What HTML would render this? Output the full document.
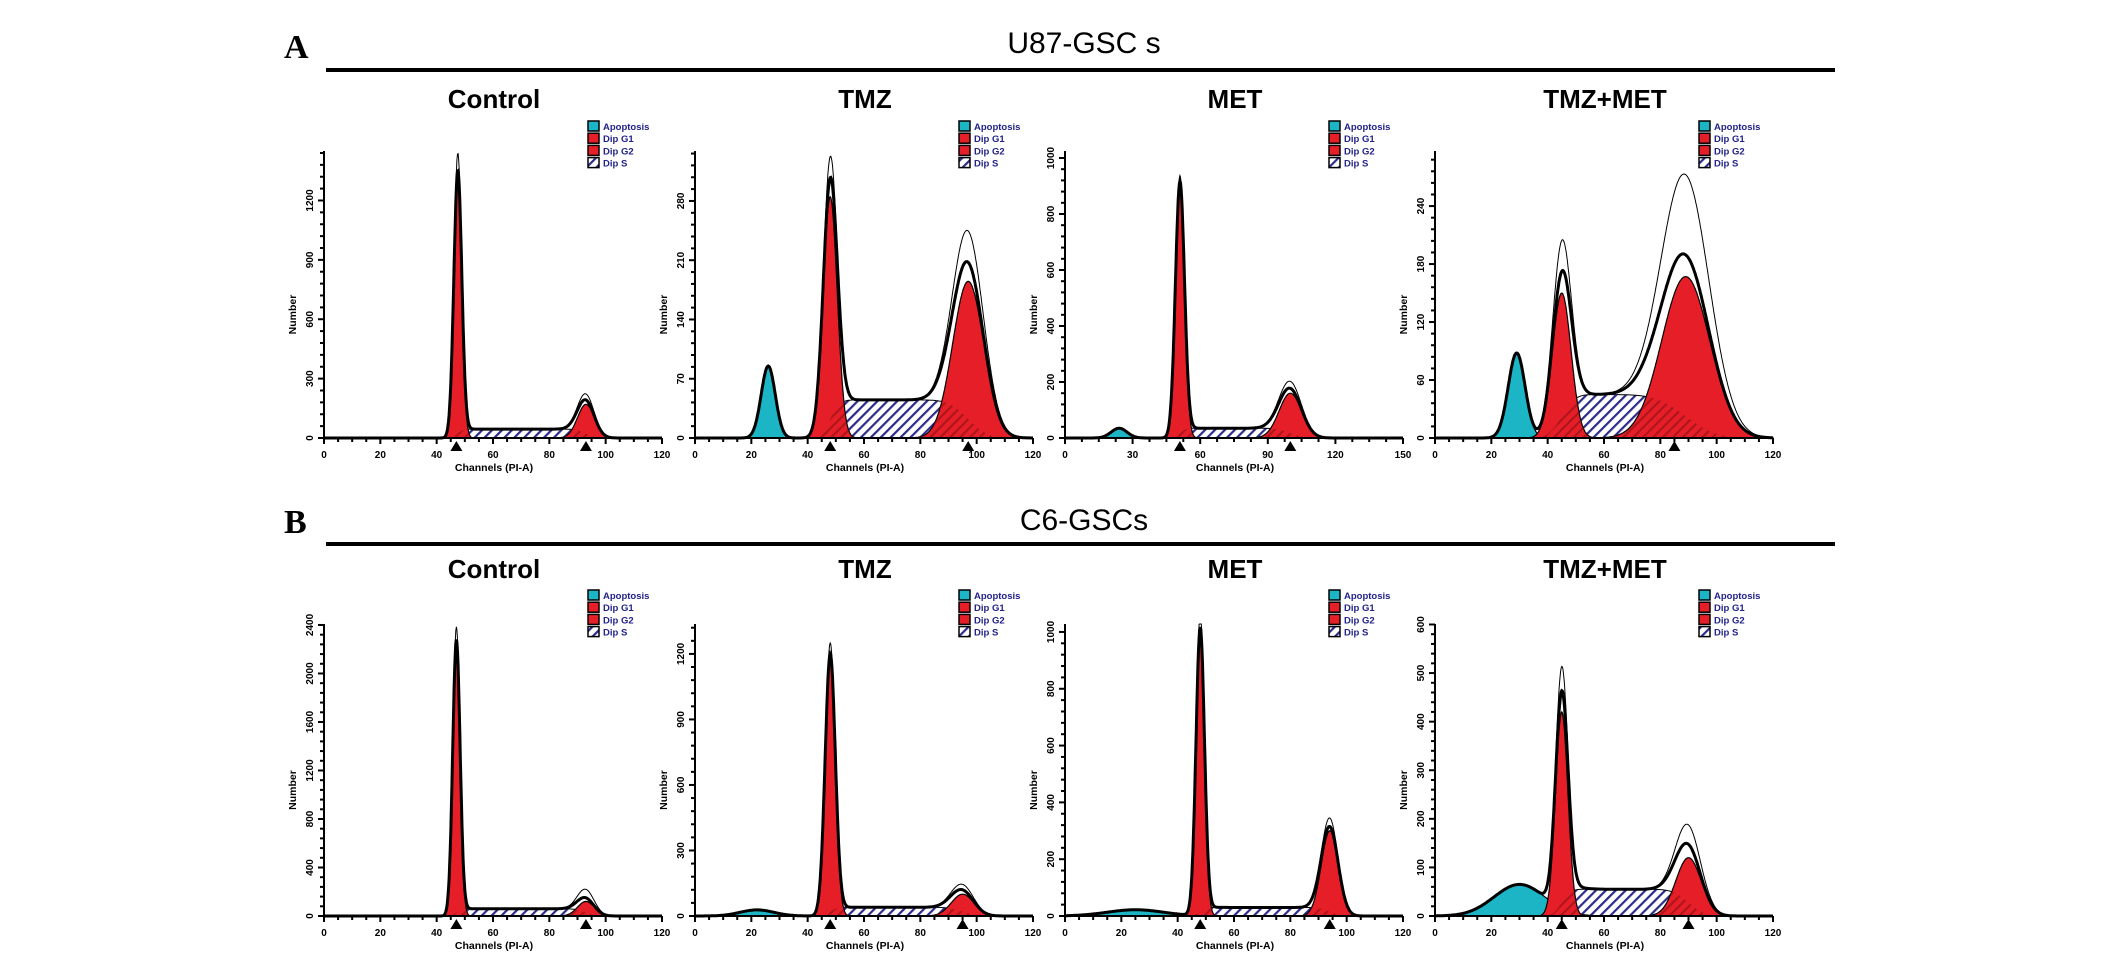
<!DOCTYPE html>
<html><head><meta charset="utf-8"><style>
body{margin:0;background:#fff;}
svg{display:block;font-family:"Liberation Sans",Arial,sans-serif;}
</style></head><body>
<svg id="fig" width="2126" height="961" viewBox="0 0 2126 961" xmlns="http://www.w3.org/2000/svg">
<defs>
<pattern id="hatchS" patternUnits="userSpaceOnUse" width="7" height="7" patternTransform="rotate(45)">
<rect width="7" height="7" fill="#fff"/><rect width="2.2" height="7" fill="#2b2b8c"/></pattern>
<pattern id="hatchR" patternUnits="userSpaceOnUse" width="7" height="7" patternTransform="rotate(45)">
<rect width="2.2" height="7" fill="#8a0f14" opacity="0.6"/></pattern>
</defs>
<text x="284" y="58" font-family="Liberation Serif,serif" font-weight="bold" font-size="34">A</text>
<line x1="326" y1="70" x2="1835" y2="70" stroke="#000" stroke-width="4"/>
<text x="1084" y="53" text-anchor="middle" font-size="30">U87-GSC s</text>
<text x="284" y="533" font-family="Liberation Serif,serif" font-weight="bold" font-size="34">B</text>
<line x1="326" y1="544" x2="1835" y2="544" stroke="#000" stroke-width="4"/>
<text x="1084" y="530" text-anchor="middle" font-size="30">C6-GSCs</text>
<g id="plots"></g>
</svg>
<script>
const panelTitles=["Control","TMZ","MET","TMZ+MET","Control","TMZ","MET","TMZ+MET"];
const xMax=[120,120,150,120,120,120,120,120];
const xStep=[20,20,30,20,20,20,20,20];
const yMax=[1450,339,1025,297,2408,1337,1028,601];
const yStep=[300,70,200,60,400,300,200,100];
const apoMean=[0,26,24,29,0,22,25,30];
const apoHeight=[0,85,35,88,0,28,22,65];
const apoSd=[1,2.5,3.5,3,1,6,10,9];
const g1Mean=[47.5,48,51,45,47,48,48,45];
const g1Height=[1330,285,900,150,2250,1180,1000,420];
const g1Sd=[1.4,2.5,2,3.3,1.3,1.8,1.5,2.2];
const g2Mean=[93,97,100,89,93,95,94,90];
const g2Height=[170,185,160,167,120,100,300,120];
const g2Sd=[3,5.5,5,8.5,3,4,3,4.5];
const sHeight=[45,45,35,45,60,40,30,55];
const rawG1=[1417,310,920,182,2355,1230,1050,470];
const rawG2=[200,222,185,250,190,125,330,160];
const markerA=[47,48,51,85,47,48,48,45];
const markerB=[93,97,100,-1,93,95,94,90];

const x0s=[324,695,1065,1435];
const rows=[{base:438,top:151,title:108,leg:121},{base:916,top:624,title:578,leg:590}];
const W=338;
const NS="http://www.w3.org/2000/svg";
const root=document.getElementById('plots');
function el(t,a,p){const e=document.createElementNS(NS,t);for(const k in a)e.setAttribute(k,a[k]);(p||root).appendChild(e);return e;}
function erf(x){const s=x<0?-1:1;x=Math.abs(x);const t=1/(1+0.3275911*x);const y=1-(((((1.061405429*t-1.453152027)*t)+1.421413741)*t-0.284496736)*t+0.254829592)*t*Math.exp(-x*x);return s*y;}
function gauss(x,m,h,s){return h*Math.exp(-0.5*((x-m)/s)**2);}
function sComp(i,x){return sHeight[i]*0.5*(erf((x-g1Mean[i])/(g1Sd[i]*1.6))-erf((x-g2Mean[i])/(g2Sd[i]*1.4)));}

for(let i=0;i<8;i++){
  const r=rows[Math.floor(i/4)],x0=x0s[i%4];
  const g=el('g',{});
  
  
  const X=v=>x0+v/xMax[i]*W;
  const Y=v=>r.base-Math.min(v,yMax[i])/yMax[i]*(r.base-r.top);
  const t=el('text',{x:x0+170,y:r.title,'text-anchor':'middle','font-weight':'bold','font-size':'26'},g);t.textContent=panelTitles[i];
  
  
  const legN=["Apoptosis","Dip G1","Dip G2","Dip S"],legF=["#1bb5c6","#e61e28","#e61e28","url(#hatchS)"];
  for(let k=0;k<4;k++){
    const lg=el('g',{},g);
    
    
    el('rect',{x:x0+264,y:r.leg+k*12.2,width:11,height:10,fill:legF[k],stroke:'#000','stroke-width':1.5},lg);
    const lt=el('text',{x:x0+279,y:r.leg+k*12.2+9,'font-size':'9.5','font-weight':'bold',fill:'#22228a'},lg);lt.textContent=legN[k];
  }
  const N=600,xs=[];for(let k=0;k<=N;k++)xs.push(k/N*xMax[i]);
  const area=(f)=>{let d='M'+X(0)+','+r.base;xs.forEach(x=>{d+='L'+X(x).toFixed(1)+','+Y(f(x)).toFixed(1);});return d+'L'+X(xMax[i])+','+r.base+'Z';};
  const line=(f)=>{let d='';xs.forEach((x,k)=>{d+=(k?'L':'M')+X(x).toFixed(1)+','+Y(f(x)).toFixed(1);});return d;};
  const S=x=>sComp(i,x),A=x=>gauss(x,apoMean[i],apoHeight[i],apoSd[i]);
  const G1=x=>gauss(x,g1Mean[i],g1Height[i],g1Sd[i]),G2=x=>gauss(x,g2Mean[i],g2Height[i],g2Sd[i]);
  const sp=el('path',{d:area(S),fill:'url(#hatchS)',stroke:'#000','stroke-width':1},g);
  
  if(apoHeight[i]>0){const ap=el('path',{d:area(A),fill:'#1bb5c6',stroke:'#000','stroke-width':1.2},g);
    }
  const p1=el('path',{d:area(G1),fill:'#e61e28',stroke:'#000','stroke-width':1.2},g);
  
  const p2=el('path',{d:area(G2),fill:'#e61e28',stroke:'#000','stroke-width':1.2},g);
  
  const ov=el('path',{d:area(x=>Math.min(S(x),Math.max(G1(x),G2(x)))),fill:'url(#hatchR)',stroke:'none'},g);
  
  const fit=x=>A(x)+G1(x)+G2(x)+S(x);
  const raw=x=>A(x)+G1(x)*rawG1[i]/g1Height[i]+G2(x)*rawG2[i]/g2Height[i]+S(x);
  const fl=el('path',{d:line(fit),fill:'none',stroke:'#000','stroke-width':3},g);
  
  const rl=el('path',{d:line(raw),fill:'none',stroke:'#000','stroke-width':1},g);
  
  const ax=el('g',{stroke:'#000','stroke-width':2},g);
  
  el('line',{x1:x0,y1:r.base,x2:x0+W,y2:r.base},ax);
  el('line',{x1:x0,y1:r.base,x2:x0,y2:r.top},ax);
  for(let v=0;v<=xMax[i]+1e-6;v+=xStep[i]/4){const maj=Math.abs(v/xStep[i]-Math.round(v/xStep[i]))<1e-6||v===xMax[i];
    el('line',{x1:X(v),y1:r.base,x2:X(v),y2:r.base+(maj?6:4)},ax);
    if(maj){const tl=el('text',{x:X(v),y:r.base+20,'text-anchor':'middle','font-size':'10','font-weight':'bold',stroke:'none'},g);tl.textContent=v;
      }}
  for(let v=0;v<=yMax[i];v+=yStep[i]/5){const maj=Math.abs(v/yStep[i]-Math.round(v/yStep[i]))<1e-6;
    el('line',{x1:x0,y1:Y(v),x2:x0-(maj?6:4),y2:Y(v)},ax);
    if(maj){const tl=el('text',{transform:`translate(${x0-11},${Y(v)}) rotate(-90)`,'text-anchor':'middle','font-size':'10','font-weight':'bold',stroke:'none'},g);tl.textContent=Math.round(v);
      }}
  const xl=el('text',{x:x0+170,y:r.base+33,'text-anchor':'middle','font-size':'10.5','font-weight':'bold'},g);xl.textContent='Channels (PI-A)';
  
  const yl=el('text',{transform:`translate(${x0-28},${(r.base+r.top)/2+20}) rotate(-90)`,'text-anchor':'middle','font-size':'10.5','font-weight':'bold'},g);yl.textContent='Number';
  
  [markerA[i],markerB[i]].forEach(m=>{if(m<0)return;const mk=el('path',{d:`M${X(m)-6},${r.base+13}L${X(m)+6},${r.base+13}L${X(m)},${r.base+3}Z`,fill:'#000'},g);
    });
}
</script>
</body></html>
